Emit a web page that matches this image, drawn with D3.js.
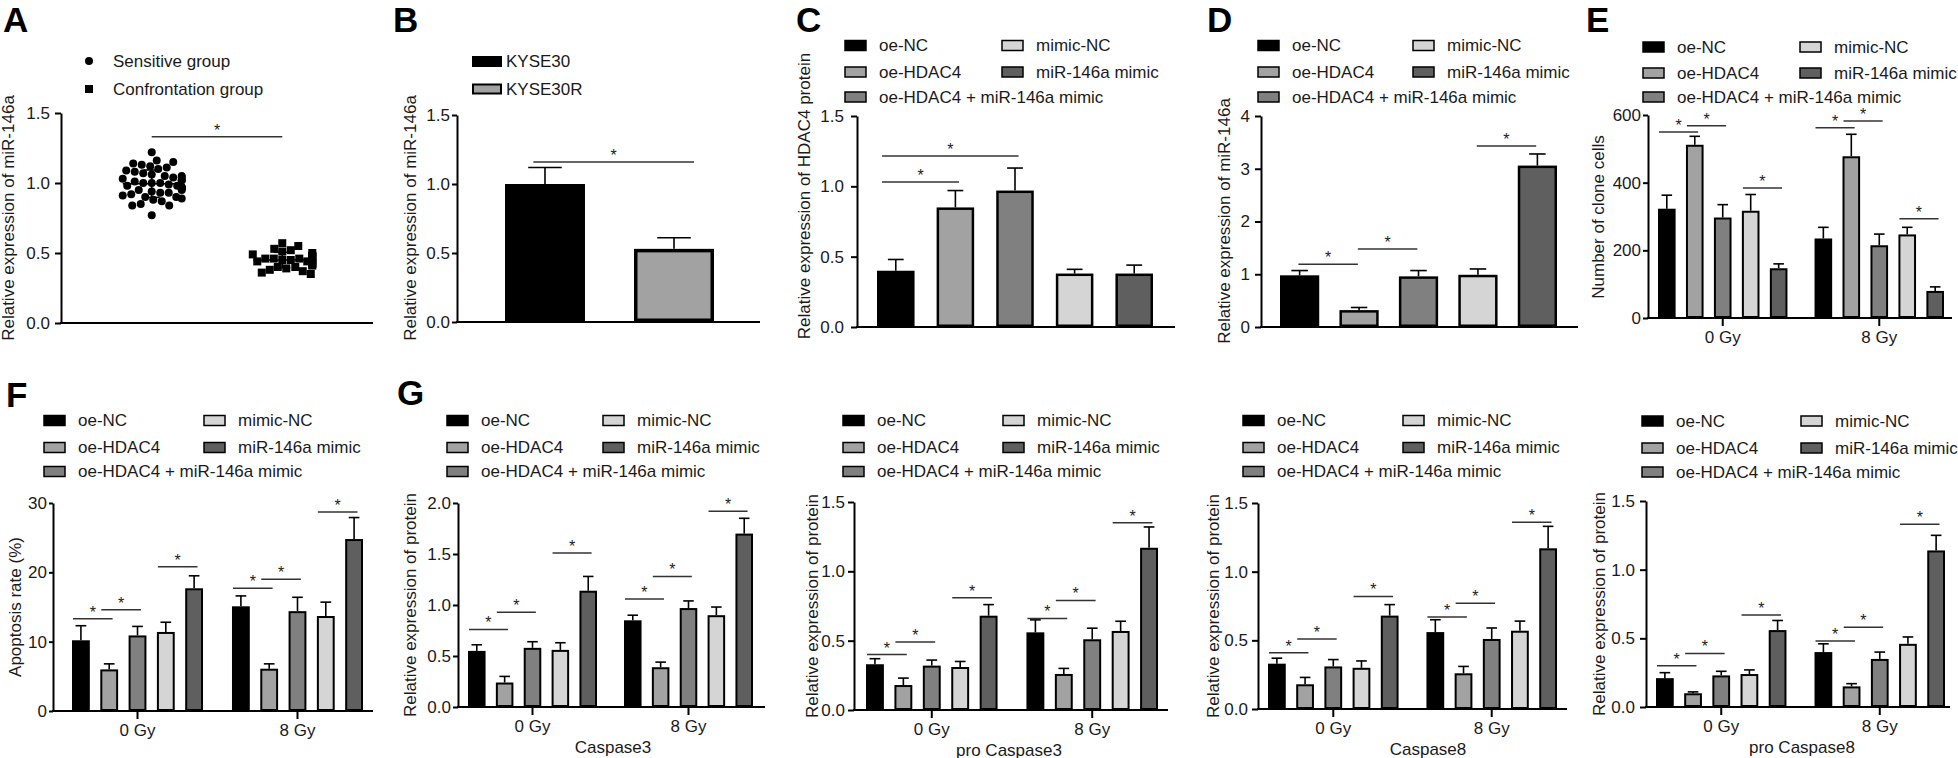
<!DOCTYPE html>
<html><head><meta charset="utf-8">
<script src="https://cdn.jsdelivr.net/npm/d3@7"></script>
<style>body{margin:0;background:#fff}</style>
</head><body>
<svg id="c" width="1958" height="758"></svg>
<script>
// ---------------- DATA ----------------
const groups = ["oe-NC", "oe-HDAC4", "oe-HDAC4 + miR-146a mimic", "mimic-NC", "miR-146a mimic"];
const doses = ["0 Gy", "8 Gy"];

// Panel A
const aCats = ["Sensitive group", "Confrontation group"];
const aSensitive = [1.22, 1.16, 1.15, 1.14, 1.13, 1.12, 1.11, 1.10, 1.09, 1.08, 1.07, 1.06, 1.05, 1.05, 1.04, 1.04, 1.03, 1.02, 1.02, 1.01, 1.00, 1.00, 1.00, 0.99, 0.98, 0.98, 0.97, 0.97, 0.96, 0.96, 0.95, 0.95, 0.94, 0.93, 0.93, 0.92, 0.91, 0.90, 0.90, 0.89, 0.88, 0.87, 0.85, 0.84, 0.84, 0.77];
const aConfrontation = [0.57, 0.55, 0.53, 0.52, 0.51, 0.50, 0.49, 0.48, 0.48, 0.47, 0.47, 0.46, 0.46, 0.46, 0.45, 0.45, 0.44, 0.44, 0.43, 0.43, 0.42, 0.42, 0.41, 0.40, 0.40, 0.39, 0.38, 0.37, 0.36, 0.35];
const aSig = [[0, 1, 1.33]];
const aTicks = [0, 0.5, 1.0, 1.5];

// Panel B
const bCats = ["KYSE30", "KYSE30R"];
const bMean = [1.00, 0.53];
const bErr = [0.12, 0.08];
const bSig = [[0, 1, 1.16]];
const bTicks = [0, 0.5, 1.0, 1.5];

// Panel C
const cMean = [0.40, 0.85, 0.97, 0.38, 0.38];
const cErr = [0.08, 0.12, 0.16, 0.03, 0.06];
const cSig = [[0, 1, 1.03], [0, 2, 1.215]];
const cTicks = [0, 0.5, 1.0, 1.5];

// Panel D
const dMean = [0.98, 0.32, 0.96, 0.99, 3.06];
const dErr = [0.09, 0.05, 0.11, 0.11, 0.22];
const dSig = [[0, 1, 1.19], [1, 2, 1.48], [3, 4, 3.43]];
const dTicks = [0, 1, 2, 3, 4];

// Panel E
const eMean0 = [323, 512, 297, 317, 147];
const eErr0 = [40, 25, 38, 48, 13];
const eMean8 = [235, 478, 215, 247, 80];
const eErr8 = [33, 65, 33, 21, 12];
const eSig0 = [[0, 1, 550], [1, 2, 568], [3, 4, 384]];
const eSig8 = [[0, 1, 562], [1, 2, 582], [3, 4, 293]];
const eTicks = [0, 200, 400, 600];

// Panel F
const fMean0 = [10.2, 6.0, 10.9, 11.4, 17.7];
const fErr0 = [2.1, 0.8, 1.3, 1.4, 1.8];
const fMean8 = [15.1, 6.1, 14.4, 13.7, 24.8];
const fErr8 = [1.5, 0.7, 2.0, 2.0, 3.1];
const fSig0 = [[0, 1, 13.3], [1, 2, 14.6], [3, 4, 20.8]];
const fSig8 = [[0, 1, 17.7], [1, 2, 19.0], [3, 4, 28.7]];
const fTicks = [0, 10, 20, 30];

// Panel G - Caspase3
const c3Mean0 = [0.55, 0.24, 0.58, 0.56, 1.14];
const c3Err0 = [0.06, 0.06, 0.06, 0.07, 0.14];
const c3Mean8 = [0.85, 0.39, 0.97, 0.90, 1.70];
const c3Err8 = [0.05, 0.05, 0.07, 0.08, 0.15];
const c3Sig0 = [[0, 1, 0.76], [1, 2, 0.93], [3, 4, 1.51]];
const c3Sig8 = [[0, 1, 1.06], [1, 2, 1.28], [3, 4, 1.92]];
const c3Ticks = [0, 0.5, 1.0, 1.5, 2.0];

// pro Caspase3
const pc3Mean0 = [0.33, 0.18, 0.32, 0.31, 0.68];
const pc3Err0 = [0.04, 0.05, 0.04, 0.04, 0.08];
const pc3Mean8 = [0.56, 0.26, 0.51, 0.57, 1.17];
const pc3Err8 = [0.09, 0.04, 0.08, 0.07, 0.15];
const pc3Sig0 = [[0, 1, 0.40], [1, 2, 0.49], [3, 4, 0.81]];
const pc3Sig8 = [[0, 1, 0.66], [1, 2, 0.79], [3, 4, 1.35]];

// Caspase8
const c8Mean0 = [0.33, 0.18, 0.31, 0.30, 0.68];
const c8Err0 = [0.04, 0.05, 0.05, 0.05, 0.08];
const c8Mean8 = [0.56, 0.26, 0.51, 0.57, 1.17];
const c8Err8 = [0.09, 0.05, 0.08, 0.07, 0.16];
const c8Sig0 = [[0, 1, 0.41], [1, 2, 0.51], [3, 4, 0.82]];
const c8Sig8 = [[0, 1, 0.67], [1, 2, 0.77], [3, 4, 1.36]];

// pro Caspase8
const pc8Mean0 = [0.21, 0.10, 0.23, 0.24, 0.56];
const pc8Err0 = [0.04, 0.01, 0.03, 0.03, 0.07];
const pc8Mean8 = [0.40, 0.15, 0.35, 0.46, 1.14];
const pc8Err8 = [0.06, 0.02, 0.05, 0.05, 0.11];
const pc8Sig0 = [[0, 1, 0.30], [1, 2, 0.39], [3, 4, 0.67]];
const pc8Sig8 = [[0, 1, 0.48], [1, 2, 0.58], [3, 4, 1.33]];
const protTicks = [0, 0.5, 1.0, 1.5];

// ---------------- STYLE ----------------
const FONT = '"Liberation Sans", Arial, Helvetica, sans-serif';
const fills = ["#000000", "#a2a2a2", "#808080", "#d5d5d5", "#5f5f5f"];
const bFills = ["#000000", "#a2a2a2"];
const TXT = "#1a1a1a";

const svg = d3.select("#c");

function letter(t, x, y) {
  svg.append("text").attr("x", x).attr("y", y).text(t)
    .attr("font-family", FONT).attr("font-weight", "bold").attr("font-size", 35).attr("fill", "#000");
}

function yAxis(p, y, ticks, fmt) {
  const gap = p.gap || 10;
  const ts = gap >= 8 ? 6 : gap - 2;
  const ax = d3.axisLeft(y).tickValues(ticks).tickFormat(d3.format(fmt))
    .tickSize(ts).tickPadding(gap - ts).tickSizeOuter(0);
  const g = svg.append("g").attr("transform", `translate(${p.ax},0)`).call(ax);
  g.select(".domain").attr("stroke", "#000").attr("stroke-width", 2);
  g.selectAll(".tick line").attr("stroke", "#000").attr("stroke-width", 2);
  g.selectAll(".tick text").attr("font-size", 17).attr("font-family", FONT).attr("fill", TXT);
  svg.append("line").attr("x1", p.ax - 1).attr("x2", p.xEnd)
    .attr("y1", y(0)).attr("y2", y(0)).attr("stroke", "#000").attr("stroke-width", 2);
  svg.append("text").attr("transform", `translate(${p.tx},${p.tcy}) rotate(-90)`)
    .attr("text-anchor", "middle").attr("font-size", 17).attr("font-family", FONT)
    .attr("fill", TXT).text(p.title);
}

function sigLines(sig, centerOf, step, y, sl, sr) {
  sig.forEach(([i, j, v]) => {
    const x1 = centerOf(i) + sl * step, x2 = centerOf(j) + sr * step;
    svg.append("line").attr("x1", x1).attr("x2", x2).attr("y1", y(v)).attr("y2", y(v))
      .attr("stroke", "#333").attr("stroke-width", 1.5);
    svg.append("text").attr("x", (x1 + x2) / 2).attr("y", y(v) - 1).attr("text-anchor", "middle")
      .attr("font-size", 16).attr("font-family", FONT).attr("fill", TXT).text("*");
  });
}

function bars(keys, means, errs, xPos, bw, y, fillArr, sw, capFrac) {
  keys.forEach((k, i) => {
    const x = xPos(k), cx = x + bw / 2;
    const top = y(means[i] + errs[i]);
    svg.append("line").attr("x1", cx).attr("x2", cx).attr("y1", y(means[i])).attr("y2", top)
      .attr("stroke", "#000").attr("stroke-width", 1.6);
    svg.append("line").attr("x1", cx - bw * capFrac / 2).attr("x2", cx + bw * capFrac / 2)
      .attr("y1", top).attr("y2", top).attr("stroke", "#000").attr("stroke-width", 1.6);
    svg.append("rect").attr("x", x + sw / 2).attr("y", y(means[i]) + sw / 2)
      .attr("width", bw - sw).attr("height", y(0) - y(means[i]) - sw)
      .attr("fill", fillArr[i]).attr("stroke", "#000").attr("stroke-width", sw);
  });
}

function legend5(lx1, lx2, rows) {
  groups.forEach((name, i) => {
    const x = i < 3 ? lx1 : lx2, yy = i < 3 ? rows[i] : rows[i - 3];
    svg.append("rect").attr("x", x).attr("y", yy - 5).attr("width", 21).attr("height", 10)
      .attr("fill", fills[i]).attr("stroke", "#000").attr("stroke-width", 1.5);
    svg.append("text").attr("x", x + 34).attr("y", yy).attr("dominant-baseline", "central")
      .attr("font-size", 17).attr("font-family", FONT).attr("fill", TXT).text(name);
  });
}

function simplePanel(p, cats, means, errs, sig, ticks, fmt, fillArr) {
  const y = d3.scaleLinear().domain([0, p.max]).range([p.y0, p.y1]);
  yAxis(p, y, ticks, fmt);
  const x = d3.scaleBand().domain(cats).range([p.barL, p.barR]).paddingInner(p.pad);
  bars(cats, means, errs, x, x.bandwidth(), y, fillArr, p.sw, p.cap);
  sigLines(sig, i => x(cats[i]) + x.bandwidth() / 2, x.step(), y, p.sl, p.sr);
}

function groupedPanel(p, m0, e0, m8, e8, s0, s8, ticks, fmt) {
  const y = d3.scaleLinear().domain([0, p.max]).range([p.y0, p.y1]);
  yAxis(p, y, ticks, fmt);
  const gx = d3.scaleBand().domain(doses).range([p.barL, p.barR]).paddingInner(p.gpad);
  const bx = d3.scaleBand().domain(groups).range([0, gx.bandwidth()]).paddingInner(0.37);
  [[m0, e0, s0], [m8, e8, s8]].forEach(([m, e, s], gi) => {
    const off = gx(doses[gi]);
    bars(groups, m, e, k => off + bx(k), bx.bandwidth(), y, fills, 2, 0.6);
    sigLines(s, i => off + bx(groups[i]) + bx.bandwidth() / 2, bx.step(), y, -0.28, 0.12);
  });
  const axB = d3.axisBottom(gx).tickSize(8).tickPadding(5).tickSizeOuter(0);
  const g = svg.append("g").attr("transform", `translate(0,${y(0)})`).call(axB);
  g.select(".domain").remove();
  g.selectAll(".tick line").attr("stroke", "#000").attr("stroke-width", 2);
  g.selectAll(".tick text").attr("font-size", 17).attr("font-family", FONT).attr("fill", TXT);
  if (p.xTitle) {
    svg.append("text").attr("x", p.xtx).attr("y", y(0) + 46).attr("text-anchor", "middle")
      .attr("font-size", 17).attr("font-family", FONT).attr("fill", TXT).text(p.xTitle);
  }
}

// ---------------- PANEL A ----------------
letter("A", 3, 32);
(function () {
  const p = { ax: 61, xEnd: 373, y0: 323, y1: 113, max: 1.5, gap: 11, tx: 14, tcy: 218, title: "Relative expression of miR-146a" };
  const y = d3.scaleLinear().domain([0, p.max]).range([p.y0, p.y1]);
  yAxis(p, y, aTicks, ".1f");
  const x = d3.scalePoint().domain(aCats).range([p.ax, p.xEnd]).padding(0.695);
  const sets = [aSensitive, aConfrontation];
  sets.forEach((vals, k) => {
    const cx = x(aCats[k]);
    // simple beeswarm layout
    const med = d3.median(vals);
    const pts = vals.map(v => ({ v, py: y(v) })).sort((a, b) => Math.abs(a.v - med) - Math.abs(b.v - med));
    const placed = [];
    const minD = 8.3;
    pts.forEach(pt => {
      let best = 0;
      for (let o = 0; o <= 30; o += 0.5) {
        let ok = null;
        for (const s of (o === 0 ? [0] : [o, -o])) {
          if (placed.every(q => Math.hypot(q.px - (cx + s), q.py - pt.py) >= minD)) { ok = s; break; }
        }
        if (ok !== null) { best = ok; break; }
        best = o;
      }
      pt.px = cx + best;
      placed.push(pt);
    });
    const m = d3.mean(vals), sd = d3.deviation(vals);
    if (k === 0) {
      svg.append("g").selectAll("circle").data(placed).join("circle")
        .attr("cx", d => d.px).attr("cy", d => d.py).attr("r", 4).attr("fill", "#000");
    } else {
      svg.append("g").selectAll("rect").data(placed).join("rect")
        .attr("x", d => d.px - 4).attr("y", d => d.py - 4).attr("width", 8).attr("height", 8).attr("fill", "#000");
    }
    svg.append("line").attr("x1", cx - 29).attr("x2", cx + 29).attr("y1", y(m)).attr("y2", y(m))
      .attr("stroke", "#000").attr("stroke-width", 1.6);
    svg.append("line").attr("x1", cx).attr("x2", cx).attr("y1", y(m - sd)).attr("y2", y(m + sd))
      .attr("stroke", "#000").attr("stroke-width", 1.6);
    [m - sd, m + sd].forEach(v => svg.append("line").attr("x1", cx - 8).attr("x2", cx + 8)
      .attr("y1", y(v)).attr("y2", y(v)).attr("stroke", "#000").attr("stroke-width", 1.6));
  });
  sigLines(aSig, i => x(aCats[i]), x.step(), y, 0, 0);
  // legend
  svg.append("circle").attr("cx", 89).attr("cy", 61).attr("r", 4).attr("fill", "#000");
  svg.append("rect").attr("x", 85).attr("y", 85).attr("width", 8).attr("height", 8).attr("fill", "#000");
  aCats.forEach((t, i) => svg.append("text").attr("x", 113).attr("y", 61 + i * 28)
    .attr("dominant-baseline", "central").attr("font-size", 17).attr("font-family", FONT).attr("fill", TXT).text(t));
})();

// ---------------- PANEL B ----------------
letter("B", 393, 32);
simplePanel({ ax: 457, xEnd: 760, y0: 322, y1: 115, max: 1.5, gap: 7, barL: 505, barR: 714, pad: 0.38, sw: 3.5, cap: 0.42,
  sl: -0.09, sr: 0.155, tx: 416, tcy: 218, title: "Relative expression of miR-146a" },
  bCats, bMean, bErr, bSig, bTicks, ".1f", bFills);
bCats.forEach((t, i) => {
  const yy = 61.5 + i * 27.5;
  svg.append("rect").attr("x", 473).attr("y", yy - 4.5).attr("width", 28).attr("height", 9)
    .attr("fill", bFills[i]).attr("stroke", "#000").attr("stroke-width", 2);
  svg.append("text").attr("x", 506).attr("y", yy).attr("dominant-baseline", "central")
    .attr("font-size", 17).attr("font-family", FONT).attr("fill", TXT).text(t);
});

// ---------------- PANEL C ----------------
letter("C", 796, 32);
simplePanel({ ax: 857, xEnd: 1175, y0: 327, y1: 116, max: 1.5, gap: 13, barL: 877, barR: 1153, pad: 0.37, sw: 2.5, cap: 0.42,
  sl: -0.23, sr: 0.06, tx: 810, tcy: 196, title: "Relative expression of HDAC4 protein" },
  groups, cMean, cErr, cSig, cTicks, ".1f", fills);
legend5(845, 1002, [45.5, 72, 97]);

// ---------------- PANEL D ----------------
letter("D", 1207, 32);
simplePanel({ ax: 1261, xEnd: 1578, y0: 327, y1: 116, max: 4, gap: 11, barL: 1280, barR: 1557, pad: 0.34, sw: 2.5, cap: 0.42,
  sl: -0.02, sr: -0.02, tx: 1230, tcy: 221, title: "Relative expression of miR-146a" },
  groups, dMean, dErr, dSig, dTicks, "d", fills);
legend5(1258, 1413, [45.5, 72, 97]);

// ---------------- PANEL E ----------------
letter("E", 1586, 32);
groupedPanel({ ax: 1648, xEnd: 1952, y0: 318, y1: 115, max: 600, gap: 7, barL: 1658, barR: 1944, gpad: 0.173,
  tx: 1604, tcy: 217, title: "Number of clone cells" },
  eMean0, eErr0, eMean8, eErr8, eSig0, eSig8, eTicks, "d");
legend5(1643, 1800, [47, 73, 97]);

// ---------------- PANEL F ----------------
letter("F", 6, 407);
groupedPanel({ ax: 53, xEnd: 373, y0: 711, y1: 503, max: 30, gap: 6, barL: 72, barR: 363, gpad: 0.181,
  tx: 21, tcy: 607, title: "Apoptosis rate (%)" },
  fMean0, fErr0, fMean8, fErr8, fSig0, fSig8, fTicks, "d");
legend5(44, 204, [420.5, 447.5, 471.5]);

// ---------------- PANEL G ----------------
letter("G", 397, 405);
groupedPanel({ ax: 458, xEnd: 765, y0: 707, y1: 503, max: 2, gap: 7, barL: 468, barR: 753, gpad: 0.173,
  tx: 416, tcy: 605, title: "Relative expression of protein", xTitle: "Caspase3", xtx: 613 },
  c3Mean0, c3Err0, c3Mean8, c3Err8, c3Sig0, c3Sig8, c3Ticks, ".1f");
legend5(447, 603, [420.5, 447.5, 471.5]);

groupedPanel({ ax: 854, xEnd: 1168, y0: 710, y1: 502, max: 1.5, gap: 9, barL: 866, barR: 1158, gpad: 0.18,
  tx: 818, tcy: 606, title: "Relative expression of protein", xTitle: "pro Caspase3", xtx: 1009 },
  pc3Mean0, pc3Err0, pc3Mean8, pc3Err8, pc3Sig0, pc3Sig8, protTicks, ".1f");
legend5(843, 1003, [420.5, 447.5, 471.5]);

groupedPanel({ ax: 1258, xEnd: 1567, y0: 709, y1: 503, max: 1.5, gap: 10, barL: 1268, barR: 1557, gpad: 0.176,
  tx: 1219, tcy: 606, title: "Relative expression of protein", xTitle: "Caspase8", xtx: 1428 },
  c8Mean0, c8Err0, c8Mean8, c8Err8, c8Sig0, c8Sig8, protTicks, ".1f");
legend5(1243, 1403, [420.5, 447.5, 471.5]);

groupedPanel({ ax: 1646, xEnd: 1950, y0: 707, y1: 501, max: 1.5, gap: 11, barL: 1656, barR: 1945, gpad: 0.177,
  tx: 1605, tcy: 604, title: "Relative expression of protein", xTitle: "pro Caspase8", xtx: 1802 },
  pc8Mean0, pc8Err0, pc8Mean8, pc8Err8, pc8Sig0, pc8Sig8, protTicks, ".1f");
legend5(1642, 1801, [421, 448, 472]);
</script>
</body></html>
